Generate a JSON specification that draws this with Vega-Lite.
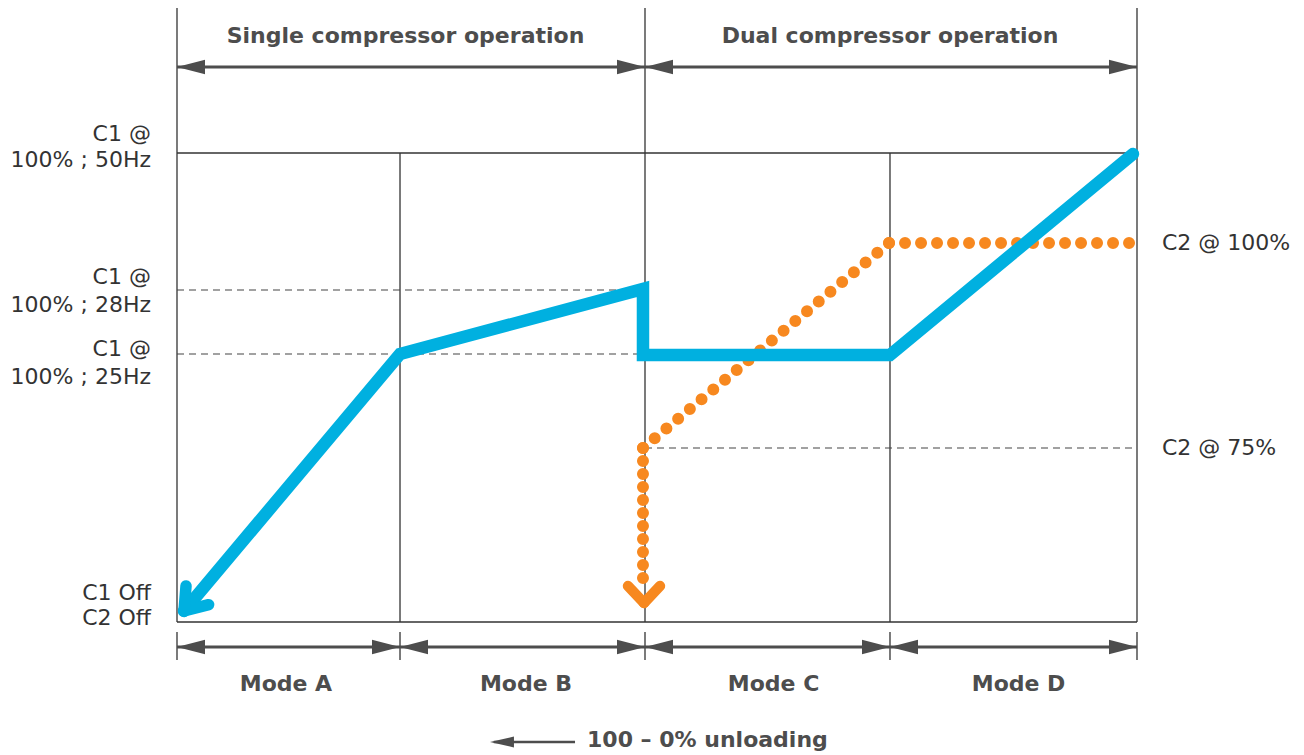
{
  "$schema": "https://vega.github.io/schema/vega-lite/v6.json",
  "width": 1304,
  "height": 755,
  "padding": 0,
  "autosize": {"type": "fit", "contains": "padding"},
  "background": "white",
  "config": {"view": {"stroke": null}},
  "datasets": {
    "solid": [
      {"x": 0, "y": 130.9, "x2": 0, "y2": 0},
      {"x": 48.75, "y": 130.9, "x2": 48.75, "y2": 0},
      {"x": 100, "y": 130.9, "x2": 100, "y2": 0},
      {"x": 23.23, "y": 100, "x2": 23.23, "y2": 0},
      {"x": 74.27, "y": 100, "x2": 74.27, "y2": 0},
      {"x": 0, "y": 0, "x2": 100, "y2": 0},
      {"x": 0, "y": 100, "x2": 100, "y2": 100},
      {"x": 0, "y": -2.13, "x2": 0, "y2": -8.1},
      {"x": 23.23, "y": -2.13, "x2": 23.23, "y2": -8.1},
      {"x": 48.75, "y": -2.13, "x2": 48.75, "y2": -8.1},
      {"x": 74.27, "y": -2.13, "x2": 74.27, "y2": -8.1},
      {"x": 100, "y": -2.13, "x2": 100, "y2": -8.1}
    ],
    "dashed": [
      {"x": 0, "y": 70.79, "x2": 48.2, "y2": 70.79},
      {"x": 0, "y": 57.14, "x2": 48.5, "y2": 57.14},
      {"x": 48.75, "y": 37.1, "x2": 100, "y2": 37.1}
    ],
    "shafts": [
      {"x": 0, "y": 118.34, "x2": 100, "y2": 118.34},
      {"x": 0, "y": -5.33, "x2": 100, "y2": -5.33}
    ],
    "shaftSmall": [
      {"x": 33.0, "y": -25.59, "x2": 41.46, "y2": -25.59}
    ],
    "heads": [
      {"x": 0, "y": 118.34, "dir": "left"},
      {"x": 48.75, "y": 118.34, "dir": "left"},
      {"x": 48.75, "y": 118.34, "dir": "right"},
      {"x": 100, "y": 118.34, "dir": "right"},
      {"x": 0, "y": -5.33, "dir": "left"},
      {"x": 23.23, "y": -5.33, "dir": "left"},
      {"x": 48.75, "y": -5.33, "dir": "left"},
      {"x": 74.27, "y": -5.33, "dir": "left"},
      {"x": 23.23, "y": -5.33, "dir": "right"},
      {"x": 48.75, "y": -5.33, "dir": "right"},
      {"x": 74.27, "y": -5.33, "dir": "right"},
      {"x": 100, "y": -5.33, "dir": "right"}
    ],
    "headSmall": [
      {"x": 32.6, "y": -25.59}
    ],
    "c1": [
      {"o": 0, "x": 99.58, "y": 99.79},
      {"o": 1, "x": 74.27, "y": 56.93},
      {"o": 2, "x": 48.54, "y": 56.93},
      {"o": 3, "x": 48.54, "y": 71.0},
      {"o": 4, "x": 23.23, "y": 57.14},
      {"o": 5, "x": 0.73, "y": 2.35}
    ],
    "c1head": [
      {"arm": "a", "o": 0, "x": 3.3, "y": 3.7},
      {"arm": "a", "o": 1, "x": 0.73, "y": 2.35},
      {"arm": "b", "o": 0, "x": 0.94, "y": 7.7},
      {"arm": "b", "o": 1, "x": 0.73, "y": 2.35}
    ],
    "c2": [
      {"seg": "h", "o": 0, "x": 74.17, "y": 80.81},
      {"seg": "h", "o": 1, "x": 99.58, "y": 80.81},
      {"seg": "d", "o": 0, "x": 74.17, "y": 80.81},
      {"seg": "d", "o": 1, "x": 48.54, "y": 37.1},
      {"seg": "v", "o": 0, "x": 48.54, "y": 37.1},
      {"seg": "v", "o": 1, "x": 48.54, "y": 9.38}
    ],
    "c2head": [
      {"arm": "a", "o": 0, "x": 46.98, "y": 7.68},
      {"arm": "a", "o": 1, "x": 48.65, "y": 4.05},
      {"arm": "b", "o": 0, "x": 50.31, "y": 7.68},
      {"arm": "b", "o": 1, "x": 48.65, "y": 4.05}
    ],
    "boldCenter": [
      {"x": 23.8, "y": 123.45, "label": "Single compressor operation"},
      {"x": 74.27, "y": 123.45, "label": "Dual compressor operation"},
      {"x": 11.35, "y": -14.71, "label": "Mode A"},
      {"x": 36.35, "y": -14.71, "label": "Mode B"},
      {"x": 62.14, "y": -14.71, "label": "Mode C"},
      {"x": 87.66, "y": -14.71, "label": "Mode D"}
    ],
    "boldLeft": [
      {"x": 42.71, "y": -26.65, "label": "100 – 0% unloading"}
    ],
    "leftLabels": [
      {"x": -2.71, "y": 102.56, "label": "C1 @"},
      {"x": -2.71, "y": 97.01, "label": "100% ; 50Hz"},
      {"x": -2.71, "y": 72.07, "label": "C1 @"},
      {"x": -2.71, "y": 66.1, "label": "100% ; 28Hz"},
      {"x": -2.71, "y": 56.72, "label": "C1 @"},
      {"x": -2.71, "y": 50.75, "label": "100% ; 25Hz"},
      {"x": -2.71, "y": 4.69, "label": "C1 Off"},
      {"x": -2.71, "y": -0.64, "label": "C2 Off"}
    ],
    "rightLabels": [
      {"x": 102.6, "y": 79.32, "label": "C2 @ 100%"},
      {"x": 102.6, "y": 35.61, "label": "C2 @ 75%"}
    ]
  },
  "encoding": {
    "x": {"field": "x", "type": "quantitative", "scale": {"domain": [-18.4375, 117.3958], "nice": false, "zero": false}, "axis": null},
    "y": {"field": "y", "type": "quantitative", "scale": {"domain": [-28.358, 132.623], "nice": false, "zero": false}, "axis": null}
  },
  "layer": [
    {
      "data": {"name": "solid"},
      "mark": {"type": "rule", "color": "#333333", "strokeWidth": 1.3},
      "encoding": {"x2": {"field": "x2"}, "y2": {"field": "y2"}}
    },
    {
      "data": {"name": "dashed"},
      "mark": {"type": "rule", "color": "#444444", "strokeWidth": 1.2, "strokeDash": [7, 5]},
      "encoding": {"x2": {"field": "x2"}, "y2": {"field": "y2"}}
    },
    {
      "data": {"name": "shafts"},
      "mark": {"type": "rule", "color": "#4d4d4d", "strokeWidth": 3},
      "encoding": {"x2": {"field": "x2"}, "y2": {"field": "y2"}}
    },
    {
      "data": {"name": "shaftSmall"},
      "mark": {"type": "rule", "color": "#4d4d4d", "strokeWidth": 2.5},
      "encoding": {"x2": {"field": "x2"}, "y2": {"field": "y2"}}
    },
    {
      "data": {"name": "heads"},
      "mark": {"type": "point", "filled": true, "size": 784, "color": "#4d4d4d", "opacity": 1, "strokeWidth": 0},
      "encoding": {
        "shape": {"field": "dir", "type": "nominal", "scale": {"domain": ["left", "right"], "range": ["M0,0L2,-0.52L2,0.52Z", "M0,0L-2,-0.52L-2,0.52Z"]}, "legend": null}
      }
    },
    {
      "data": {"name": "headSmall"},
      "mark": {"type": "point", "filled": true, "size": 576, "color": "#4d4d4d", "opacity": 1, "strokeWidth": 0, "shape": "M0,0L2,-0.45L2,0.45Z"}
    },
    {
      "data": {"name": "c2"},
      "mark": {"type": "line", "color": "#f7881f", "strokeWidth": 12, "strokeCap": "round"},
      "encoding": {
        "order": {"field": "o"},
        "strokeDash": {"field": "seg", "type": "nominal", "scale": {"domain": ["h", "d", "v"], "range": [[0, 16], [0, 15.25], [0, 13]]}, "legend": null}
      }
    },
    {
      "data": {"name": "c2head"},
      "mark": {"type": "line", "color": "#f7881f", "strokeWidth": 10.5, "strokeCap": "round"},
      "encoding": {"order": {"field": "o"}, "detail": {"field": "arm"}}
    },
    {
      "data": {"name": "c1"},
      "mark": {"type": "line", "color": "#00b0e0", "strokeWidth": 12.5, "strokeCap": "round", "strokeJoin": "miter"},
      "encoding": {"order": {"field": "o"}}
    },
    {
      "data": {"name": "c1head"},
      "mark": {"type": "line", "color": "#00b0e0", "strokeWidth": 11.5, "strokeCap": "round"},
      "encoding": {"order": {"field": "o"}, "detail": {"field": "arm"}}
    },
    {
      "data": {"name": "boldCenter"},
      "mark": {"type": "text", "align": "center", "baseline": "alphabetic", "font": "DejaVu Sans", "fontWeight": "bold", "fontSize": 22, "color": "#4d4d4d"},
      "encoding": {"text": {"field": "label"}}
    },
    {
      "data": {"name": "boldLeft"},
      "mark": {"type": "text", "align": "left", "baseline": "alphabetic", "font": "DejaVu Sans", "fontWeight": "bold", "fontSize": 22, "color": "#4d4d4d"},
      "encoding": {"text": {"field": "label"}}
    },
    {
      "data": {"name": "leftLabels"},
      "mark": {"type": "text", "align": "right", "baseline": "alphabetic", "font": "DejaVu Sans", "fontSize": 22, "color": "#333333"},
      "encoding": {"text": {"field": "label"}}
    },
    {
      "data": {"name": "rightLabels"},
      "mark": {"type": "text", "align": "left", "baseline": "alphabetic", "font": "DejaVu Sans", "fontSize": 22, "color": "#333333"},
      "encoding": {"text": {"field": "label"}}
    }
  ]
}
